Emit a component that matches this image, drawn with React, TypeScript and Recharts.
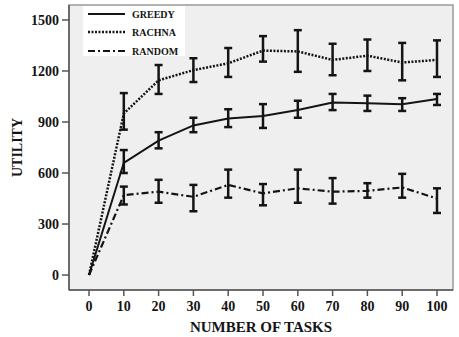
import React from "react";
import {
  ComposedChart,
  Line,
  XAxis,
  YAxis,
  ErrorBar,
  ReferenceArea,
} from "recharts";

const tasks = [0, 10, 20, 30, 40, 50, 60, 70, 80, 90, 100];

const greedy = [0, 660, 790, 880, 920, 935, 970, 1015, 1010, 1005, 1035];
const greedyLow = [0, 600, 745, 840, 870, 865, 925, 970, 965, 965, 1000];
const greedyHigh = [0, 735, 840, 925, 975, 1005, 1025, 1065, 1055, 1040, 1065];

const rachna = [0, 950, 1145, 1205, 1245, 1320, 1315, 1265, 1290, 1250, 1265];
const rachnaLow = [0, 855, 1065, 1135, 1165, 1255, 1195, 1175, 1200, 1145, 1165];
const rachnaHigh = [0, 1070, 1235, 1275, 1335, 1405, 1440, 1360, 1385, 1365, 1380];

const random = [0, 470, 490, 460, 530, 480, 510, 490, 495, 515, 450];
const randomLow = [0, 415, 425, 375, 455, 410, 425, 420, 455, 455, 365];
const randomHigh = [0, 520, 560, 530, 620, 535, 620, 570, 540, 595, 510];

const yTicks = [0, 300, 600, 900, 1200, 1500];

const seriesNames = ["GREEDY", "RACHNA", "RANDOM"];

// value + [below, above] error spans, none at the origin point
const errSpan = (v: number, lo: number, hi: number, i: number) =>
  i === 0 ? undefined : [v - lo, hi - v];

const data = tasks.map((t, i) => ({
  tasks: t,
  greedy: greedy[i],
  greedyErr: errSpan(greedy[i], greedyLow[i], greedyHigh[i], i),
  rachna: rachna[i],
  rachnaErr: errSpan(rachna[i], rachnaLow[i], rachnaHigh[i], i),
  random: random[i],
  randomErr: errSpan(random[i], randomLow[i], randomHigh[i], i),
}));

const FONT = "Times New Roman, Liberation Serif, DejaVu Serif, serif";
const INK = "#141414";

const dashes = ["", "2 1.5", "7 3 2 3"];
const widths = [2, 2.5, 2.2];

const tickStyle = { fontFamily: FONT, fontWeight: 700, fontSize: 14, fill: INK };

const X_MIN = -5.75;
const X_MAX = 104.6;
const Y_MIN = -88;
const Y_MAX = 1588;

function Legendbox() {
  return (
    <div
      style={{
        position: "absolute",
        left: 83,
        top: 6,
        width: 102,
        height: 50,
        background: "#fff",
      }}
    >
      <svg width={102} height={50}>
        {seriesNames.map((name, i) => {
          const y = [8, 26, 45][i];
          return (
            <g key={name}>
              <line
                x1={5}
                x2={42}
                y1={y}
                y2={y}
                stroke={INK}
                strokeWidth={widths[i]}
                strokeDasharray={dashes[i] || undefined}
              />
              <text
                x={49}
                y={y + 4}
                fontFamily={FONT}
                fontWeight={700}
                fontSize={10}
                fill={INK}
              >
                {name}
              </text>
            </g>
          );
        })}
      </svg>
    </div>
  );
}

export default function App() {
  return (
    <div
      style={{
        position: "absolute",
        left: 0,
        top: 0,
        width: 459,
        height: 337,
        background: "#fff",
      }}
    >
      <ComposedChart
        width={459}
        height={337}
        data={data}
        margin={{ top: 5, right: 6, bottom: 0, left: 0 }}
      >
        <ReferenceArea
          x1={X_MIN}
          x2={X_MAX}
          y1={Y_MIN}
          y2={Y_MAX}
          fill="#efefef"
          fillOpacity={1}
          stroke="#9a9a9a"
          strokeWidth={1.5}
          ifOverflow="extendDomain"
        />
        <XAxis
          dataKey="tasks"
          type="number"
          domain={[X_MIN, X_MAX]}
          ticks={tasks}
          allowDataOverflow
          height={47}
          tick={tickStyle}
          tickSize={6}
          tickMargin={5}
          stroke="#555"
          strokeWidth={1.5}
          label={{
            value: "NUMBER OF TASKS",
            position: "insideBottom",
            offset: 5,
            fontFamily: FONT,
            fontWeight: 700,
            fontSize: 15,
            fill: INK,
          }}
        />
        <YAxis
          type="number"
          domain={[Y_MIN, Y_MAX]}
          ticks={yTicks}
          allowDataOverflow
          width={69}
          tick={tickStyle}
          tickSize={7}
          tickMargin={3}
          stroke="#555"
          strokeWidth={1.5}
          label={{
            value: "UTILITY",
            angle: -90,
            position: "insideLeft",
            offset: 17,
            fontFamily: FONT,
            fontWeight: 700,
            fontSize: 14,
            fill: INK,
            textAnchor: "middle",
          }}
        />
        <Line
          dataKey="rachna"
          stroke={INK}
          strokeWidth={widths[1]}
          strokeDasharray={dashes[1]}
          dot={false}
          isAnimationActive={false}
        >
          <ErrorBar dataKey="rachnaErr" width={4} stroke={INK} strokeWidth={2.5} />
        </Line>
        <Line
          dataKey="greedy"
          stroke={INK}
          strokeWidth={widths[0]}
          dot={false}
          isAnimationActive={false}
        >
          <ErrorBar dataKey="greedyErr" width={4} stroke={INK} strokeWidth={2.5} />
        </Line>
        <Line
          dataKey="random"
          stroke={INK}
          strokeWidth={widths[2]}
          strokeDasharray={dashes[2]}
          dot={false}
          isAnimationActive={false}
        >
          <ErrorBar dataKey="randomErr" width={4} stroke={INK} strokeWidth={2.5} />
        </Line>
      </ComposedChart>
      <Legendbox />
    </div>
  );
}
